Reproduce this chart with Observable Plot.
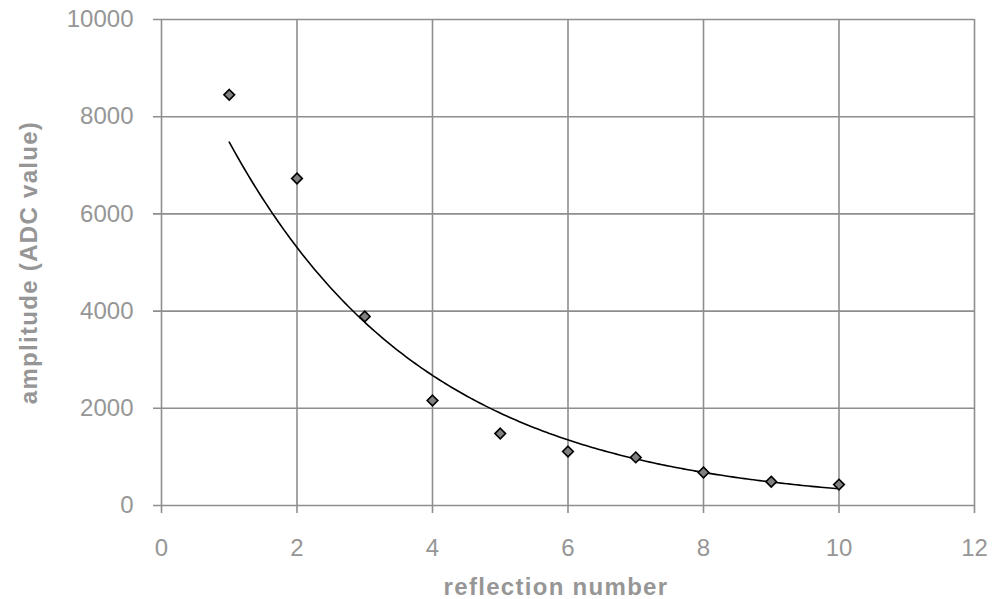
<!DOCTYPE html>
<html>
<head>
<meta charset="utf-8">
<script src="https://cdn.jsdelivr.net/npm/d3@7"></script>
<script src="https://cdn.jsdelivr.net/npm/@observablehq/plot@0.6"></script>
<style>
  html, body { margin: 0; padding: 0; background: #fff; }
  g[aria-label="text"] text { letter-spacing: 1.3px; }
</style>
</head>
<body>
<div id="chart"></div>
<script>
// Data
const reflection = [1, 2, 3, 4, 5, 6, 7, 8, 9, 10];
const amplitude = [8450, 6730, 3890, 2160, 1480, 1110, 990, 680, 490, 430];
const xTicks = [0, 2, 4, 6, 8, 10, 12];
const yTicks = [0, 2000, 4000, 6000, 8000, 10000];
const xLabel = "reflection number";
const yLabel = "amplitude (ADC value)";

const points = reflection.map((x, i) => ({x, y: amplitude[i]}));

// Exponential trendline (least squares on ln y), as in a spreadsheet trendline
const mx = d3.mean(points, d => d.x);
const ml = d3.mean(points, d => Math.log(d.y));
const sxy = d3.sum(points, d => (d.x - mx) * (Math.log(d.y) - ml));
const sxx = d3.sum(points, d => (d.x - mx) ** 2);
const b = sxy / sxx;
const a = Math.exp(ml - b * mx);
const x0 = d3.min(reflection), x1 = d3.max(reflection);
const trend = d3.range(0, 201).map(k => {
  const x = x0 + (x1 - x0) * k / 200;
  return {x, y: a * Math.exp(b * x)};
});

const grey = "#8e8e8e";
const textGrey = "#969696";

const chart = Plot.plot({
  width: 996,
  height: 599,
  marginLeft: 161,
  marginRight: 22,
  marginTop: 19,
  marginBottom: 94,
  style: {fontFamily: "'Liberation Sans', Arial, sans-serif", background: "#fff", overflow: "visible"},
  x: {domain: [0, 12]},
  y: {domain: [0, 10000]},
  marks: [
    Plot.ruleX(xTicks, {stroke: grey, strokeWidth: 1.6, insetBottom: -8}),
    Plot.ruleY(yTicks, {stroke: grey, strokeWidth: 1.6, insetLeft: -8}),
    Plot.axisX({ticks: xTicks, tickSize: 0, tickPadding: 33, fontSize: 24, fill: textGrey, label: null, tickFormat: d => String(d)}),
    Plot.axisY({ticks: yTicks, tickSize: 0, tickPadding: 28, fontSize: 24, fill: textGrey, label: null, tickFormat: d => String(d)}),
    Plot.line(trend, {x: "x", y: "y", stroke: "#000", strokeWidth: 1.6}),
    Plot.dot(points, {x: "x", y: "y", symbol: "diamond2", r: 4.8, fill: "#808080", stroke: "#000", strokeWidth: 1.6}),
    Plot.text([xLabel], {text: d => d, frameAnchor: "bottom", textAnchor: "middle", lineAnchor: "top", dx: -12, dy: 72, fontSize: 24, fontWeight: "bold", fill: textGrey}),
    Plot.text([yLabel], {text: d => d, frameAnchor: "left", textAnchor: "middle", rotate: -90, lineAnchor: "middle", dx: -132, fontSize: 24, fontWeight: "bold", fill: textGrey})
  ]
});

document.getElementById("chart").appendChild(chart);
</script>
</body>
</html>
